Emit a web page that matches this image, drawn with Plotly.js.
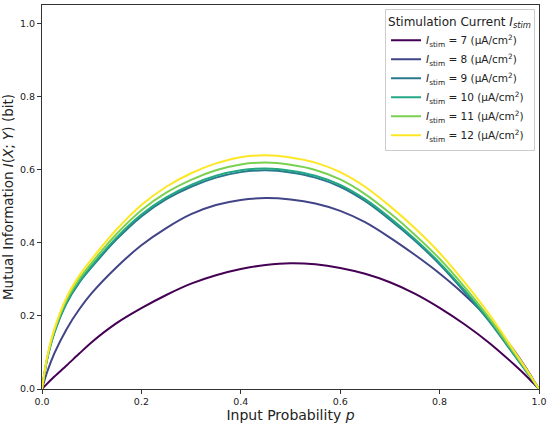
<!DOCTYPE html>
<html>
<head>
<meta charset="utf-8">
<script src="https://cdn.plot.ly/plotly-3.0.1.min.js"></script>
<style>html,body{margin:0;padding:0;background:#fff;}#chart{width:550px;height:425px;}</style>
</head>
<body>
<div id="chart"></div>
<script>
// Input probability p (x values)
const pValues = [0, 0.01, 0.025, 0.05, 0.075, 0.1, 0.15, 0.2, 0.25, 0.3, 0.35, 0.4, 0.45, 0.5, 0.55, 0.6, 0.65, 0.7, 0.75, 0.8, 0.85, 0.9, 0.95, 0.975, 0.99, 1];

// Mutual information (bit)
const mi7  = [0, 0.014, 0.034, 0.065, 0.097, 0.128, 0.180, 0.221, 0.257, 0.288, 0.311, 0.328, 0.339, 0.344, 0.341, 0.331, 0.315, 0.292, 0.261, 0.222, 0.177, 0.126, 0.067, 0.035, 0.014, 0];
const mi8  = [0, 0.045, 0.098, 0.165, 0.218, 0.262, 0.333, 0.393, 0.440, 0.478, 0.503, 0.517, 0.522, 0.518, 0.507, 0.487, 0.456, 0.414, 0.367, 0.316, 0.258, 0.190, 0.105, 0.055, 0.022, 0];
const mi9  = [0, 0.079, 0.154, 0.236, 0.291, 0.333, 0.409, 0.472, 0.519, 0.553, 0.578, 0.593, 0.598, 0.592, 0.578, 0.553, 0.514, 0.463, 0.406, 0.341, 0.266, 0.185, 0.093, 0.047, 0.019, 0];
const mi10 = [0, 0.080, 0.156, 0.239, 0.294, 0.337, 0.414, 0.477, 0.524, 0.558, 0.583, 0.598, 0.603, 0.597, 0.583, 0.558, 0.519, 0.468, 0.410, 0.345, 0.270, 0.188, 0.095, 0.048, 0.019, 0];
const mi11 = [0, 0.082, 0.160, 0.245, 0.301, 0.345, 0.424, 0.489, 0.537, 0.572, 0.598, 0.614, 0.619, 0.613, 0.599, 0.573, 0.533, 0.481, 0.422, 0.356, 0.279, 0.194, 0.098, 0.050, 0.020, 0];
const mi12 = [0, 0.085, 0.165, 0.252, 0.310, 0.355, 0.436, 0.503, 0.553, 0.590, 0.617, 0.634, 0.639, 0.633, 0.619, 0.593, 0.553, 0.500, 0.440, 0.372, 0.292, 0.204, 0.104, 0.053, 0.021, 0];

const currents = [7, 8, 9, 10, 11, 12];
const seriesValues = [mi7, mi8, mi9, mi10, mi11, mi12];
const colors = ['#440154', '#414487', '#2a788e', '#22a884', '#7ad151', '#fde725'];

const xTicks = [0, 0.2, 0.4, 0.6, 0.8, 1.0];
const xTickLabels = ['0.0', '0.2', '0.4', '0.6', '0.8', '1.0'];
const yTicks = [0, 0.2, 0.4, 0.6, 0.8, 1.0];
const yTickLabels = ['0.0', '0.2', '0.4', '0.6', '0.8', '1.0'];

const FONT = 'DejaVu Sans, Liberation Sans, sans-serif';

const traces = currents.map((c, i) => ({
  x: pValues,
  y: seriesValues[i],
  type: 'scatter',
  mode: 'lines',
  line: {color: colors[i], width: 2, shape: 'spline', smoothing: 0.8},
  name: '<i>I</i><sub>stim</sub> = ' + c + ' (μA/cm<sup>2</sup>)'
}));

const axisCommon = {
  showline: true, mirror: true, linecolor: '#333', linewidth: 1,
  ticks: 'outside', ticklen: 4, tickwidth: 1, tickcolor: '#333',
  showgrid: false, zeroline: false,
  tickfont: {family: FONT, size: 9.5, color: '#222'}
};

const layout = {
  width: 550, height: 425,
  margin: {l: 41.5, r: 11, t: 5, b: 36},
  paper_bgcolor: '#fff', plot_bgcolor: '#fff',
  font: {family: FONT, color: '#222'},
  xaxis: Object.assign({}, axisCommon, {
    range: [0, 1], tickvals: xTicks, ticktext: xTickLabels,
    title: {text: 'Input Probability <i>p</i>', font: {family: FONT, size: 14, color: '#222'}, standoff: 3}
  }),
  yaxis: Object.assign({}, axisCommon, {
    range: [0, 1.05], tickvals: yTicks, ticktext: yTickLabels,
    title: {text: 'Mutual Information <i>I</i>(<i>X</i>; <i>Y</i>) (bit)', font: {family: FONT, size: 13.5, color: '#222'}, standoff: 4}
  }),
  legend: {
    x: 0.992, xanchor: 'right', y: 0.989, yanchor: 'top',
    bgcolor: 'rgba(255,255,255,0.9)', bordercolor: '#ccc', borderwidth: 1,
    font: {family: FONT, size: 10.5, color: '#222'},
    title: {text: 'Stimulation Current <i>I<sub>stim</sub></i>', font: {family: FONT, size: 12, color: '#222'}},
    tracegroupgap: 0
  },
  showlegend: true
};

Plotly.newPlot('chart', traces, layout, {displayModeBar: false, staticPlot: true});
</script>
</body>
</html>
